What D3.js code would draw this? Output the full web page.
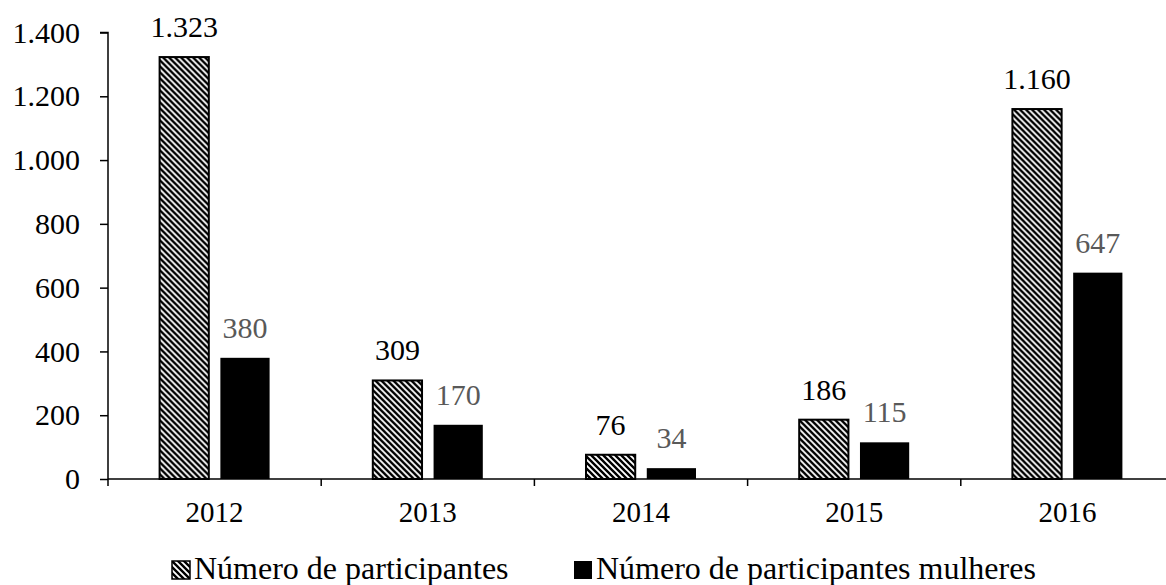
<!DOCTYPE html>
<html>
<head>
<meta charset="utf-8">
<script src="https://cdnjs.cloudflare.com/ajax/libs/d3/7.8.5/d3.min.js"></script>
<style>
  html, body { margin: 0; padding: 0; background: #fff; }
  svg { display: block; }
  text { font-family: "Liberation Serif", "Times New Roman", serif; }
</style>
</head>
<body>
<svg id="chart" width="1166" height="585"></svg>
<script>
// Participantes por ano
const years = ["2012", "2013", "2014", "2015", "2016"];
const totalParticipants = [1323, 309, 76, 186, 1160];
const womenParticipants = [380, 170, 34, 115, 647];
const seriesNames = ["Número de participantes", "Número de participantes mulheres"];
const yTicks = [0, 200, 400, 600, 800, 1000, 1200, 1400];

const ptBR = d3.formatLocale({ decimal: ",", thousands: ".", grouping: [3], currency: ["R$", ""] });
const fmt = ptBR.format(",d");

const svg = d3.select("#chart");
const width = 1166, height = 585;
const plot = { left: 108, right: 1174, top: 32.5, bottom: 479 };
const labelSize = 30, yearSize = 29, legendSize = 32;

// Hatch pattern for the total series
const defs = svg.append("defs");
const pat = defs.append("pattern")
  .attr("id", "hatch")
  .attr("patternUnits", "userSpaceOnUse")
  .attr("width", 6).attr("height", 6);
pat.append("rect").attr("width", 6).attr("height", 6).attr("fill", "#fff");
pat.append("path")
  .attr("d", "M-1,-1 L7,7 M-1,5 L1,7 M5,-1 L7,1")
  .attr("stroke", "#000").attr("stroke-width", 2.4);

const x = d3.scaleBand().domain(years).range([plot.left, plot.right]).padding(0);
const y = d3.scaleLinear().domain([0, 1400]).range([plot.bottom, plot.top]);
const inner = d3.scaleBand().domain([0, 1]).range([0, 110]).paddingInner(0.19).paddingOuter(0);

const rows = years.map((yr, i) => ({ year: yr, values: [totalParticipants[i], womenParticipants[i]] }));

// Y axis
const yAxis = svg.append("g")
  .attr("transform", `translate(${plot.left},0)`)
  .call(d3.axisLeft(y).tickValues(yTicks).tickSize(8).tickPadding(20).tickFormat(fmt));
yAxis.attr("font-family", null);
yAxis.select(".domain").attr("stroke", "#000").attr("stroke-width", 1.5).attr("d", `M-8,${plot.top}H0V${plot.bottom + 7}`);
yAxis.selectAll(".tick line").attr("stroke", "#000").attr("stroke-width", 1.5);
yAxis.selectAll(".tick text")
  .attr("font-size", labelSize).attr("fill", "#000");

// Bars
const groups = svg.append("g").selectAll("g")
  .data(rows).join("g")
  .attr("transform", d => `translate(${x(d.year) + x.bandwidth() / 2 - 55},0)`);

groups.selectAll("rect")
  .data(d => d.values.map((v, k) => ({ v, k })))
  .join("rect")
  .attr("x", d => inner(d.k))
  .attr("width", inner.bandwidth())
  .attr("y", d => y(d.v))
  .attr("height", d => y(0) - y(d.v))
  .attr("fill", d => d.k === 0 ? "url(#hatch)" : "#000")
  .attr("stroke", "#000")
  .attr("stroke-width", d => d.k === 0 ? 2 : 0);

groups.selectAll("text.val")
  .data(d => d.values.map((v, k) => ({ v, k })))
  .join("text")
  .attr("class", "val")
  .attr("x", d => inner(d.k) + inner.bandwidth() / 2)
  .attr("y", d => y(d.v) - 20)
  .attr("text-anchor", "middle")
  .attr("font-size", labelSize)
  .attr("fill", d => d.k === 0 ? "#000" : "#595959")
  .text(d => fmt(d.v));

// X axis
const xAxis = svg.append("g").attr("transform", `translate(0,${plot.bottom})`);
xAxis.append("line").attr("x1", plot.left).attr("x2", width).attr("y1", 0).attr("y2", 0)
  .attr("stroke", "#000").attr("stroke-width", 1.5);
xAxis.selectAll("line.tk")
  .data(years.slice(1)).join("line").attr("class", "tk")
  .attr("x1", d => x(d)).attr("x2", d => x(d))
  .attr("y1", 0).attr("y2", 7)
  .attr("stroke", "#000").attr("stroke-width", 1.5);
xAxis.selectAll("text")
  .data(years).join("text")
  .attr("x", d => x(d) + x.bandwidth() / 2)
  .attr("y", 43)
  .attr("text-anchor", "middle")
  .attr("font-size", yearSize)
  .attr("fill", "#000")
  .text(d => d);

// Legend
const legend = svg.append("g");
const legendItems = [
  { name: seriesNames[0], fill: "url(#hatch)", stroke: 1.5, x: 172 },
  { name: seriesNames[1], fill: "#000", stroke: 0, x: 574 }
];
const li = legend.selectAll("g").data(legendItems).join("g")
  .attr("transform", d => `translate(${d.x},561)`);
li.append("rect").attr("width", 18).attr("height", 18)
  .attr("fill", d => d.fill).attr("stroke", "#000").attr("stroke-width", d => d.stroke);
li.append("text").attr("x", 22).attr("y", 18)
  .attr("font-size", legendSize).attr("fill", "#000")
  .text(d => d.name);
</script>
</body>
</html>
